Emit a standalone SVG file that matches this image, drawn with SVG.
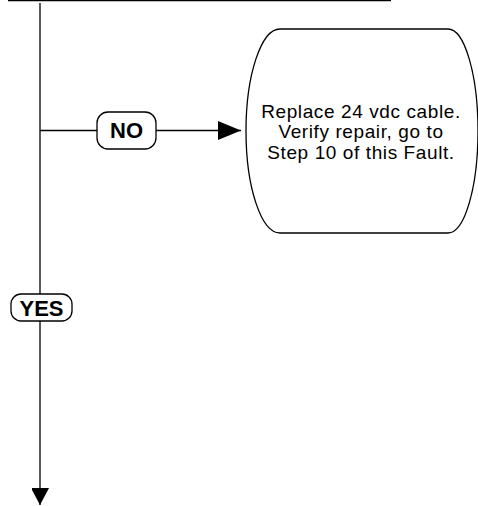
<svg xmlns="http://www.w3.org/2000/svg" width="478" height="506" viewBox="0 0 478 506">
<style>
.ln{stroke:#000;stroke-width:1.3;fill:none}
.lbl{fill:#fff;stroke:#000;stroke-width:1.3}
.bt{font-family:"Liberation Sans",Arial,sans-serif;font-weight:bold;font-size:22px;text-anchor:middle;fill:#000}
.tt{font-family:"Liberation Sans",Arial,sans-serif;font-size:19px;letter-spacing:0.6px;text-anchor:middle;fill:#000}
</style>
<defs>
<marker id="ah" markerWidth="23" markerHeight="19" refX="23" refY="9.5" orient="auto" markerUnits="userSpaceOnUse">
<path d="M0,0 L23,9.5 L0,19 Z" fill="#000"/>
</marker>
<marker id="ahd" markerWidth="18" markerHeight="17" refX="17" refY="9" orient="auto" markerUnits="userSpaceOnUse">
<path d="M0,0 L17,9 L0,18 Z" fill="#000"/>
</marker>
</defs>
<g id="connectors">
<line class="ln" x1="8" y1="0.7" x2="391" y2="0.7"/>
<line class="ln" x1="40" y1="3" x2="40" y2="505" marker-end="url(#ahd)"/>
<line class="ln" x1="40" y1="130.5" x2="241" y2="130.5" marker-end="url(#ah)"/>
</g>
<g id="no">
<rect class="lbl" x="97" y="112" width="59" height="37" rx="11"/>
<text class="bt" x="126.5" y="138">NO</text>
</g>
<g id="yes">
<rect class="lbl" x="11" y="294" width="61" height="27" rx="10"/>
<text class="bt" x="41.5" y="316">YES</text>
</g>
<g id="action">
<path class="ln" d="M280,29 H448 A30,102 0 0 1 448,233 H280 A34,102 0 0 1 280,29 Z" fill="#fff"/>
<text class="tt" x="361" y="117.5">Replace 24 vdc cable.</text>
<text class="tt" x="361" y="138.3">Verify repair, go to</text>
<text class="tt" x="361" y="159">Step 10 of this Fault.</text>
</g>
</svg>
